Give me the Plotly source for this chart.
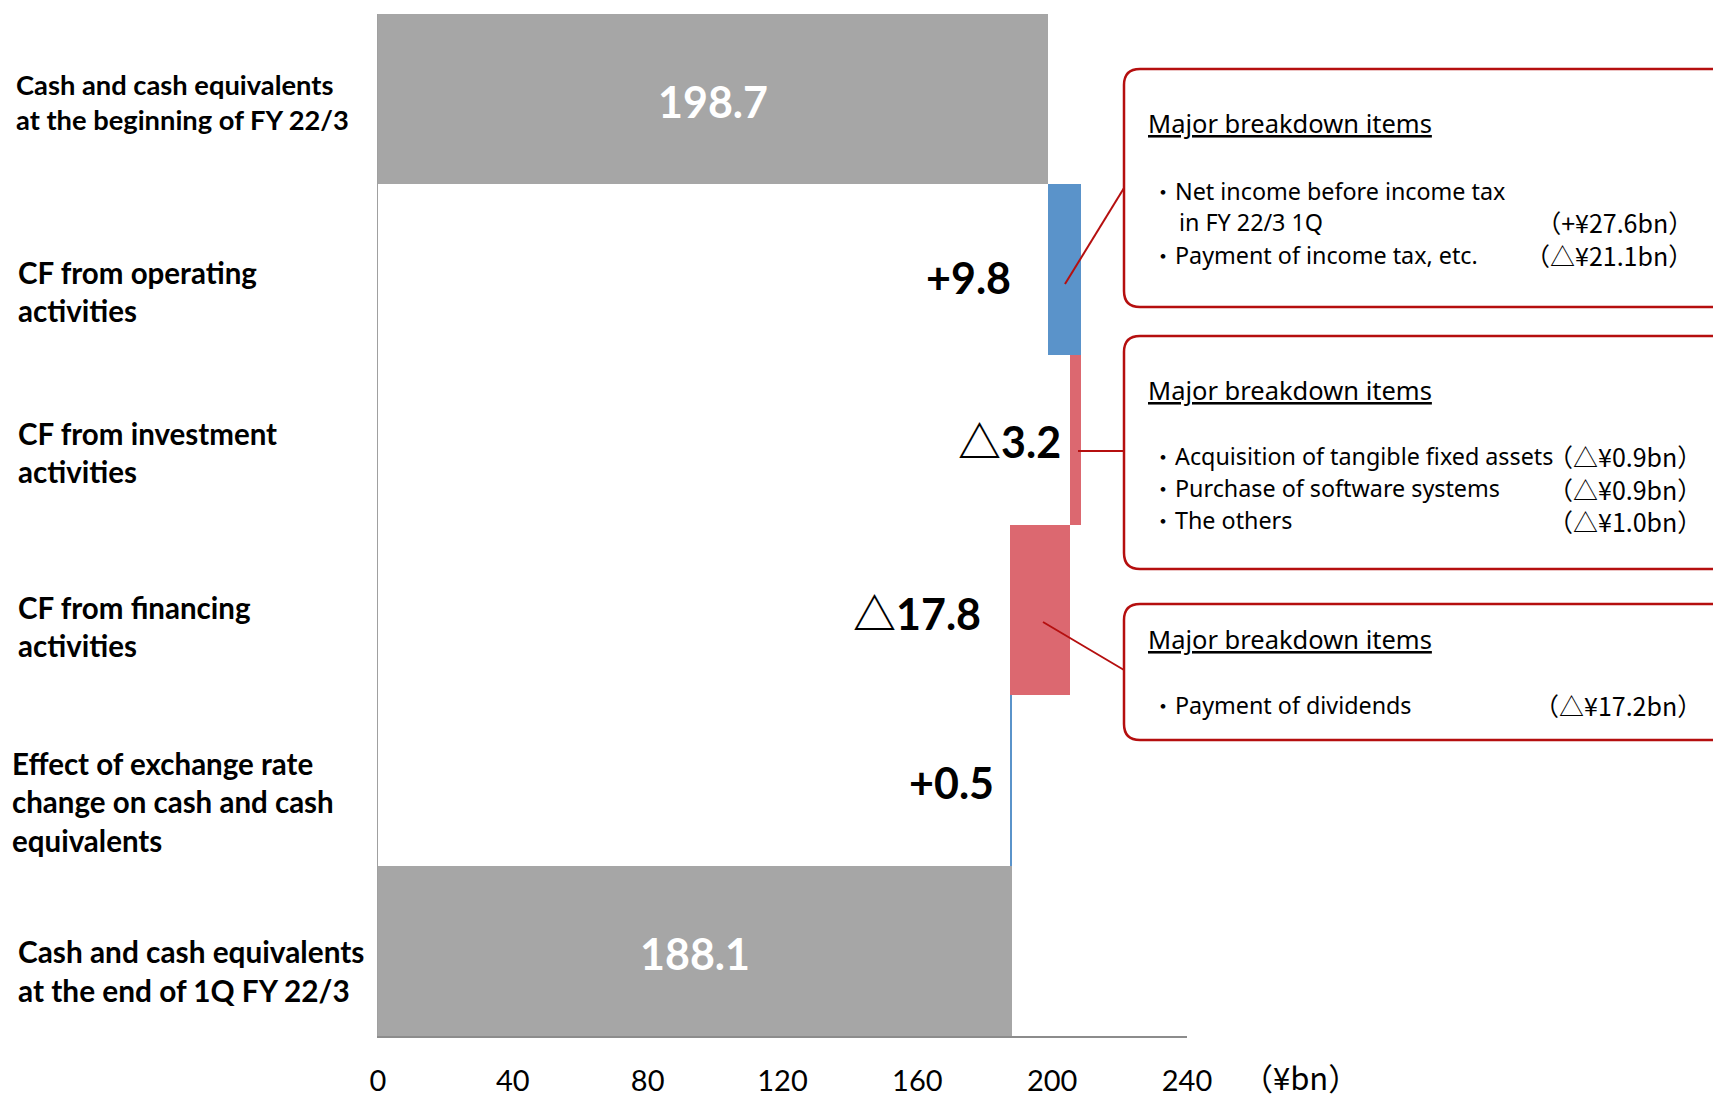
import plotly.graph_objects as go

# ---- data -------------------------------------------------------------
category_labels = [
    "Cash and cash equivalents<br>at the beginning of FY 22/3",
    "CF from operating<br>activities",
    "CF from investment<br>activities",
    "CF from financing<br>activities",
    "Effect of exchange rate<br>change on cash and cash<br>equivalents",
    "Cash and cash equivalents<br>at the end of 1Q FY 22/3",
]
opening_balance = 198.7
flow_values = [9.8, -3.2, -17.8, 0.5]
flow_labels = ["+9.8", "△3.2", "△17.8", "+0.5"]
closing_balance = 188.1
x_ticks = [0, 40, 80, 120, 160, 200, 240]

box_titles = ["Major breakdown items", "Major breakdown items", "Major breakdown items"]
box_items = [
    ["Net income before income tax", "in FY 22/3 1Q", "Payment of income tax, etc."],
    ["Acquisition of tangible fixed assets", "Purchase of software systems", "The others"],
    ["Payment of dividends"],
]
box_bullets = [[True, False, True], [True, True, True], [True]]
box_amounts = [
    ["（+¥27.6bn）", "（△¥21.1bn）"],
    ["（△¥0.9bn）", "（△¥0.9bn）", "（△¥1.0bn）"],
    ["（△¥17.2bn）"],
]

# ---- styling ----------------------------------------------------------
W, H = 1713, 1100
L, R, T, B = 378, 1187, 14, 1036  # plot area in pixels
GRAY = "#A6A6A6"
BLUE = "#5A93CA"
RED = "#DC6870"
DARKRED = "#B50F0F"
LABEL_FONT = "Lato, 'Noto Sans CJK JP', sans-serif"
BOX_FONT = "'Noto Sans', 'Noto Sans CJK JP', sans-serif"
CJK_FONT = "'Noto Sans CJK JP', 'Noto Sans', sans-serif"


def px(x):
    return (x - L) / (R - L)


def py(y):
    return (B - y) / (B - T)


# ---- waterfall geometry ------------------------------------------------
n = len(category_labels)
ypos = list(range(n))
bases = [0]
lengths = [opening_balance]
colors = [GRAY]
running = opening_balance
for v in flow_values:
    bases.append(min(running, running + v))
    lengths.append(abs(v))
    colors.append(BLUE if v > 0 else RED)
    running += v
bases.append(0)
lengths.append(closing_balance)
colors.append(GRAY)

fig = go.Figure(
    go.Bar(
        y=ypos,
        x=lengths,
        base=bases,
        orientation="h",
        marker=dict(color=colors, line=dict(width=0)),
        width=1.0,
        hoverinfo="skip",
    )
)

annotations = []

# category labels on the left
label_geom = [  # (left px, size, yshift)
    (14, 27.3, -3),
    (16, 29.5, -22),
    (16, 29.5, -13),
    (16, 29.5, -16),
    (10, 29.5, -21),
    (16, 29.8, -20),
]
for i, text in enumerate(category_labels):
    lx, fs, ys = label_geom[i]
    annotations.append(dict(
        x=px(lx), xref="paper", xanchor="left",
        y=i, yref="y", yanchor="middle", yshift=ys,
        text=f"<b>{text}</b>", showarrow=False, align="left",
        font=dict(family=LABEL_FONT, size=fs, color="black"),
    ))

# balance values inside the gray bars
for i, val in [(0, opening_balance), (n - 1, closing_balance)]:
    annotations.append(dict(
        x=val / 2, xref="x", xanchor="center", y=i, yref="y",
        yshift=-2 if i == 0 else -3,
        text=f"<b>{val:.1f}</b>", showarrow=False,
        font=dict(family=LABEL_FONT, size=43, color="white"),
    ))

# flow values to the left of each floating bar
flow_shift = [-35, -7, -27, -14]
flow_yshift = [-8, -2, -3, -2]
for k, txt in enumerate(flow_labels):
    i = k + 1
    annotations.append(dict(
        x=bases[i], xref="x", xanchor="right", xshift=flow_shift[k],
        y=i, yref="y", yshift=flow_yshift[k],
        text=f"<b>{txt}</b>", showarrow=False,
        font=dict(family=LABEL_FONT, size=43, color="black"),
    ))

# axis unit
annotations.append(dict(
    x=px(1300), xref="paper", xanchor="center", y=py(1076), yref="paper",
    yanchor="middle", text="（¥bn）", showarrow=False,
    font=dict(family=CJK_FONT, size=31, color="black"),
))

# ---- breakdown boxes ----------------------------------------------------
shapes = []
box_rects = [(1124, 69, 1760, 307), (1124, 336, 1760, 569), (1124, 604, 1760, 740)]
title_y = [123, 390, 639]
item_y = [[191, 222, 255], [456, 488, 520], [705]]
amount_y = [238.5, 488, 705]
amount_right = [1695, 1704, 1704]
connectors = [((1065, 284), (1124, 188)), ((1078, 451), (1124, 451)), ((1043, 622), (1124, 670))]


def rounded_rect(x0, y0, x1, y1, r):
    X0, X1 = px(x0), px(x1)
    Y0, Y1 = py(y0), py(y1)
    rx = r / (R - L)
    ry = r / (B - T)
    return (
        f"M {X0 + rx} {Y0} L {X1 - rx} {Y0} Q {X1} {Y0} {X1} {Y0 - ry} "
        f"L {X1} {Y1 + ry} Q {X1} {Y1} {X1 - rx} {Y1} "
        f"L {X0 + rx} {Y1} Q {X0} {Y1} {X0} {Y1 + ry} "
        f"L {X0} {Y0 - ry} Q {X0} {Y0} {X0 + rx} {Y0} Z"
    )


for b, (x0, y0, x1, y1) in enumerate(box_rects):
    shapes.append(dict(
        type="path", xref="paper", yref="paper",
        path=rounded_rect(x0, y0, x1, y1, 16),
        line=dict(color=DARKRED, width=2.5), fillcolor="rgba(0,0,0,0)",
    ))
    (ax, ay), (bx, by) = connectors[b]
    shapes.append(dict(
        type="line", xref="paper", yref="paper",
        x0=px(ax), y0=py(ay), x1=px(bx), y1=py(by),
        line=dict(color=DARKRED, width=2),
    ))
    annotations.append(dict(
        x=px(1146), xref="paper", xanchor="left",
        y=py(title_y[b]), yref="paper", yanchor="middle",
        text=f"<u>{box_titles[b]}</u>", showarrow=False,
        font=dict(family=BOX_FONT, size=25.5, color="black"),
    ))
    for j, item in enumerate(box_items[b]):
        yy = py(item_y[b][j])
        if box_bullets[b][j]:
            annotations.append(dict(
                x=px(1150), xref="paper", xanchor="left", y=yy, yref="paper",
                yanchor="middle", text="・", showarrow=False,
                font=dict(family=BOX_FONT, size=22, color="black"),
            ))
        annotations.append(dict(
            x=px(1173 if box_bullets[b][j] else 1177), xref="paper", xanchor="left",
            y=yy, yref="paper", yanchor="middle", text=item, showarrow=False,
            font=dict(family=BOX_FONT, size=23.3, color="black"),
        ))
    # amounts stacked in one right-aligned column
    annotations.append(dict(
        x=px(amount_right[b]), xref="paper", xanchor="right",
        y=py(amount_y[b]), yref="paper", yanchor="middle",
        text="<br>".join(box_amounts[b]), align="right", showarrow=False,
        font=dict(family=CJK_FONT, size=25, color="black"),
    ))

fig.update_layout(
    width=W, height=H,
    margin=dict(l=L, r=W - R, t=T, b=H - B, pad=0, autoexpand=False),
    paper_bgcolor="white", plot_bgcolor="white",
    showlegend=False, bargap=0,
    xaxis=dict(
        range=[0, 240], tickvals=x_ticks, ticks="", showgrid=False, zeroline=False,
        showline=True, linecolor="#8C8C8C", linewidth=2, automargin=False,
        tickfont=dict(family=LABEL_FONT, size=29, color="black"),
        ticklabelstandoff=18,
    ),
    yaxis=dict(
        range=[n - 0.5, -0.5], showticklabels=False, ticks="", showgrid=False,
        zeroline=False, showline=True, linecolor="#A0A0A0", linewidth=1,
        automargin=False,
    ),
    annotations=annotations,
    shapes=shapes,
)

fig.write_html("out.html")
